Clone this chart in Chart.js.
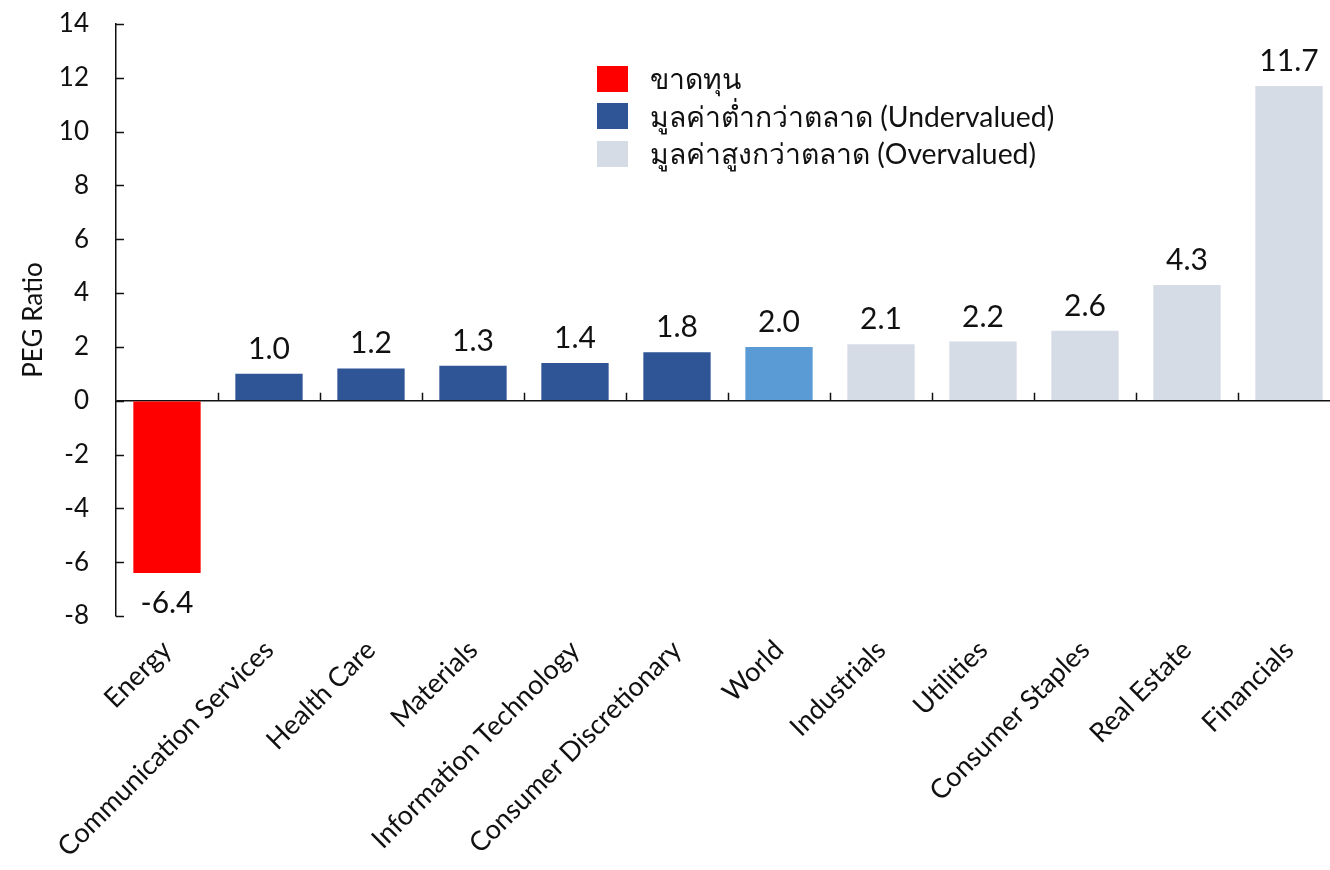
<!DOCTYPE html>
<html>
<head>
<meta charset="utf-8">
<script src="https://cdn.jsdelivr.net/npm/chart.js@4"></script>
<style>
  html, body { margin: 0; padding: 0; background: #fff; overflow: hidden; }
  #wrap { position: relative; width: 1330px; height: 870px; overflow: hidden; }
  #legend { position: absolute; left: 597px; top: 60px; font-family: Lato, "Noto Sans", "DejaVu Sans", sans-serif; font-size: 28.3px; color: #111; }
  .row { display: flex; align-items: center; height: 37.5px; }
  .sw { width: 31px; height: 26px; margin-right: 22px; flex: none; }
</style>
</head>
<body>
<div id="wrap">
  <canvas id="c" width="1340" height="870"></canvas>
  <div id="legend"></div>
</div>
<script>
const categories = ["Energy", "Communication Services", "Health Care", "Materials", "Information Technology",
  "Consumer Discretionary", "World", "Industrials", "Utilities", "Consumer Staples", "Real Estate", "Financials"];
const pegValues = [-6.4, 1.0, 1.2, 1.3, 1.4, 1.8, 2.0, 2.1, 2.2, 2.6, 4.3, 11.7];
const groups = ["loss", "under", "under", "under", "under", "under", "world", "over", "over", "over", "over", "over"];
const groupColors = { loss: "#FF0000", under: "#2F5597", world: "#5B9BD5", over: "#D6DCE5" };
const legendNames = ["ขาดทุน", "มูลค่าต่ำกว่าตลาด (Undervalued)", "มูลค่าสูงกว่าตลาด (Overvalued)"];
const legendKeys = ["loss", "under", "over"];
const yTicks = [-8, -6, -4, -2, 0, 2, 4, 6, 8, 10, 12, 14];

const FONT = 'Lato, "Noto Sans", "DejaVu Sans", sans-serif';

// legend
const leg = document.getElementById('legend');
legendNames.forEach((name, i) => {
  const r = document.createElement('div'); r.className = 'row';
  const s = document.createElement('div'); s.className = 'sw'; s.style.background = groupColors[legendKeys[i]];
  const t = document.createElement('span'); t.textContent = name;
  r.appendChild(s); r.appendChild(t); leg.appendChild(r);
});

// short inward tick marks on both axes, plus value labels
const marks = {
  id: 'marks',
  afterDatasetsDraw(chart) {
    const { ctx, scales: { x, y }, chartArea } = chart;
    const zeroY = y.getPixelForValue(0);
    ctx.save();
    ctx.strokeStyle = '#111'; ctx.lineWidth = 1.5;
    // y axis ticks
    yTicks.forEach(v => {
      const py = Math.round(y.getPixelForValue(v)) + 0.5;
      ctx.beginPath(); ctx.moveTo(chartArea.left, py); ctx.lineTo(chartArea.left + 8, py); ctx.stroke();
    });
    // x category boundaries on the zero line
    for (let i = 1; i < categories.length; i++) {
      const px = Math.round((x.getPixelForValue(i - 1) + x.getPixelForValue(i)) / 2) + 0.5;
      ctx.beginPath(); ctx.moveTo(px, zeroY); ctx.lineTo(px, zeroY - 8); ctx.stroke();
    }
    // value labels
    ctx.fillStyle = '#111';
    ctx.font = '30px ' + FONT;
    ctx.textAlign = 'center';
    ctx.textBaseline = 'alphabetic';
    const meta = chart.getDatasetMeta(0);
    meta.data.forEach((bar, i) => {
      const v = pegValues[i];
      if (v >= 0) ctx.fillText(v.toFixed(1), bar.x, bar.y - 15);
      else ctx.fillText(v.toFixed(1), bar.x, bar.y + 40);
    });
    ctx.restore();
  }
};

new Chart(document.getElementById('c'), {
  type: 'bar',
  data: {
    labels: categories,
    datasets: [{
      data: pegValues,
      backgroundColor: groups.map(g => groupColors[g]),
      barPercentage: 0.66,
      categoryPercentage: 1.0
    }]
  },
  options: {
    responsive: false,
    animation: false,
    layout: { padding: { top: 0, right: 0, left: 0, bottom: 0 } },
    plugins: { legend: { display: false }, tooltip: { enabled: false } },
    scales: {
      x: {
        grid: { display: false },
        border: { display: false },
        ticks: {
          color: '#111', font: { family: FONT, size: 27 },
          maxRotation: 45, minRotation: 45, autoSkip: false, padding: 10
        },
        afterFit(s) { s.height = 254; }
      },
      y: {
        min: -8, max: 14,
        border: { display: true, color: '#111', width: 1.5 },
        grid: {
          drawTicks: false,
          color: ctx => (ctx.tick && ctx.tick.value === 0) ? '#111' : 'rgba(0,0,0,0)',
          lineWidth: 1.5
        },
        ticks: {
          stepSize: 2, color: '#111', padding: 27,
          font: { family: FONT, size: 26 }
        },
        title: {
          display: true, text: 'PEG Ratio', color: '#111',
          font: { family: FONT, size: 26 }, padding: { top: 18, bottom: 0 }
        },
        afterFit(s) { s.width = 116; s.paddingTop = 24; s.paddingBottom = 0; }
      }
    }
  },
  plugins: [marks]
});
</script>
</body>
</html>
